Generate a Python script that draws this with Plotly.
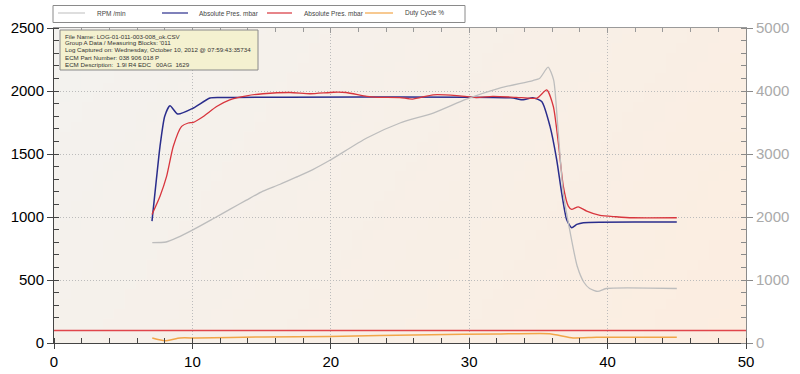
import base64, struct, zlib
import plotly.graph_objects as go

# ---------------- data ----------------
rpm_t = [7.1, 8.1, 8.9, 10.1, 11.5, 12.7, 13.9, 15.1, 16.3, 17.5, 18.7, 19.9, 22.6, 25.0,
         27.4, 29.8, 32.2, 34.6, 35.1, 35.7, 36.1, 36.4, 36.8, 37.3, 37.8, 38.3, 38.7,
         39.3, 39.9, 45.0]
rpm = [1594, 1603, 1672, 1804, 1973, 2120, 2267, 2410, 2516, 2632, 2753, 2896, 3254, 3492,
       3650, 3871, 4045, 4166, 4203, 4378, 4177, 3438, 2384, 1751, 1223, 960, 865,
       818, 865, 865]

blue_t = [7.08, 7.4, 7.66, 8.0, 8.38, 8.94, 10.07, 11.27, 12.0, 33.0, 33.9, 34.6, 35.24,
          35.84, 36.32, 36.68, 37.04, 37.4, 37.77, 38.25, 45.0]
blue = [967, 1300, 1561, 1800, 1883, 1817, 1865, 1944, 1948, 1946, 1930, 1946, 1917,
        1719, 1456, 1192, 981, 915, 941, 955, 960]

red_t = [7.08, 7.66, 8.14, 8.62, 9.22, 9.7, 10.07, 10.79, 11.75, 12.7, 13.92, 15.1, 17.05,
         18.5, 20.2, 21.1, 22.6, 23.4, 25.0, 25.9, 27.4, 29.1, 30.5, 31.7, 33.4, 34.9, 35.6,
         36.08, 36.44, 36.8, 37.16, 37.4, 37.88, 38.49, 39.45, 40.6, 41.8, 45.0]
red = [1020, 1165, 1324, 1561, 1719, 1746, 1751, 1798, 1877, 1930, 1962, 1978, 1988,
       1978, 1990, 1988, 1957, 1950, 1948, 1936, 1970, 1964, 1948, 1957, 1950, 1944, 2009,
       1877, 1588, 1245, 1086, 1060, 1081, 1047, 1013, 1002, 994, 994]

duty_t = [7.1, 8.0, 9.1, 10.3, 15.1, 19.9, 27.2, 32.0, 35.8, 37.5, 39.2, 45.0]
duty = [40, 18, 40, 40, 48, 52, 66, 71, 74, 40, 45, 45]

limit_value = 100

series_names = ["RPM /min", "Absolute Pres. mbar", "Absolute Pres. mbar", "Duty Cycle %"]
series_colors = ["#c8c8c8", "#2a2d8c", "#d8353d", "#f2a548"]

info_lines = [
    "File Name: LOG-01-011-003-008_ok.CSV",
    "Group A Data / Measuring Blocks: '011",
    "Log Captured on: Wednesday, October 10, 2012 @ 07:59:43:35734",
    "ECM Part Number: 038 906 018 P",
    "ECM Description:  1.9l R4 EDC   00AG  1629",
]

x_ticks = [0, 10, 20, 30, 40, 50]
y_ticks = [0, 500, 1000, 1500, 2000, 2500]
y2_ticks = [0, 1000, 2000, 3000, 4000, 5000]

# ---------------- geometry helpers (pixel -> paper) ----------------
W, H = 800, 374
ML, MR, MT, MB = 54, 54, 28, 31
PW, PH = W - ML - MR, H - MT - MB


def px(x):
    return (x - ML) / PW


def py(y):
    return (H - MB - y) / PH


# ---------------- background gradient image ----------------
def gradient_png(w, h, c_tl, c_br):
    rows = b""
    for j in range(h):
        row = b"\x00"
        for i in range(w):
            t = 0.75 * i / (w - 1) + 0.25 * j / (h - 1)
            row += bytes(int(round(c_tl[k] + (c_br[k] - c_tl[k]) * t)) for k in range(3))
        rows += row

    def chunk(tag, data):
        c = struct.pack(">I", len(data)) + tag + data
        return c + struct.pack(">I", zlib.crc32(tag + data) & 0xffffffff)
    png = b"\x89PNG\r\n\x1a\n"
    png += chunk(b"IHDR", struct.pack(">IIBBBBB", w, h, 8, 2, 0, 0, 0))
    png += chunk(b"IDAT", zlib.compress(rows))
    png += chunk(b"IEND", b"")
    return "data:image/png;base64," + base64.b64encode(png).decode()


bg_src = gradient_png(64, 32, (243, 242, 239), (252, 237, 224))

FONT = "Liberation Sans, Arial, sans-serif"

fig = go.Figure()
fig.add_trace(go.Scatter(x=rpm_t, y=rpm, name=series_names[0], yaxis="y2",
                         mode="lines", line=dict(color="#bdbdbd", width=1.3, shape="spline", smoothing=0.6)))
fig.add_trace(go.Scatter(x=blue_t, y=blue, name=series_names[1],
                         mode="lines", line=dict(color=series_colors[1], width=1.5, shape="spline", smoothing=0.6)))
fig.add_trace(go.Scatter(x=red_t, y=red, name=series_names[2],
                         mode="lines", line=dict(color=series_colors[2], width=1.3, shape="spline", smoothing=0.6)))
fig.add_trace(go.Scatter(x=duty_t, y=duty, name=series_names[3],
                         mode="lines", line=dict(color=series_colors[3], width=1.5, shape="spline", smoothing=0.5)))
# invisible trace to activate the top mirror axis
fig.add_trace(go.Scatter(x=[0, 50], y=[0, 0], xaxis="x2", mode="lines",
                         line=dict(width=0), showlegend=False, hoverinfo="skip"))

fig.add_shape(type="line", xref="paper", x0=0, x1=1, yref="y", y0=limit_value, y1=limit_value,
              line=dict(color="#e0454b", width=1.5))

fig.add_layout_image(dict(source=bg_src, xref="paper", yref="paper", x=0, y=1,
                          sizex=1, sizey=1, sizing="stretch", layer="below",
                          xanchor="left", yanchor="top"))

# ---------------- info box ----------------
fig.add_shape(type="rect", xref="paper", yref="paper", x0=px(60), x1=px(258), y0=py(70), y1=py(30),
              fillcolor="#f4f1d0", line=dict(color="#8a8a8a", width=1), layer="above")
info_y = [36, 42.8, 50, 57.2, 64.3]
for txt, yy in zip(info_lines, info_y):
    fig.add_annotation(text=txt, xref="paper", yref="paper", x=px(63), y=py(yy),
                       xanchor="left", yanchor="middle", showarrow=False,
                       font=dict(family=FONT, size=6.2, color="#333"))

# ---------------- legend (manual) ----------------
fig.add_shape(type="rect", xref="paper", yref="paper", x0=px(53), x1=px(465), y0=py(22.5), y1=py(5.5),
              fillcolor="white", line=dict(color="#8a8a8a", width=1))
leg_samples = [(58, 85), (162, 188), (267, 292), (365, 393)]
leg_text_x = [95, 197, 302, 403]
for name, col, (a, b), tx in zip(series_names, series_colors, leg_samples, leg_text_x):
    fig.add_shape(type="line", xref="paper", yref="paper", x0=px(a), x1=px(b), y0=py(13), y1=py(13),
                  line=dict(color=col, width=1.2))
    fig.add_annotation(text=name, xref="paper", yref="paper", x=px(tx), y=py(13.5),
                       xanchor="left", yanchor="middle", showarrow=False,
                       font=dict(family=FONT, size=6.5, color="#444"))

fig.update_layout(
    width=W, height=H,
    margin=dict(l=ML, r=MR, t=MT, b=MB, autoexpand=False),
    paper_bgcolor="white",
    plot_bgcolor="#f7f0e8",
    font=dict(family=FONT, size=15, color="black"),
    showlegend=False,
    xaxis=dict(range=[0, 50], tickvals=x_ticks, showgrid=True, gridcolor="#bcbcbc",
               griddash="1px,2px", gridwidth=1, zeroline=False,
               showline=True, linecolor="#444", linewidth=1,
               ticks="outside", ticklen=5, tickcolor="#444",
               minor=dict(dtick=2, ticks="inside", ticklen=5, tickcolor="#444", showgrid=False),
               tickfont=dict(size=15, color="black")),
    xaxis2=dict(range=[0, 50], overlaying="x", side="top", showticklabels=False,
                showgrid=False, zeroline=False, showline=True, linecolor="#9a9a9a",
                ticks="inside", ticklen=5, tickcolor="#9a9a9a", tickvals=x_ticks,
                minor=dict(dtick=2, ticks="inside", ticklen=4, tickcolor="#9a9a9a")),
    yaxis=dict(range=[0, 2500], tickvals=y_ticks, showgrid=True, gridcolor="#bcbcbc",
               griddash="1px,2px", gridwidth=1, zeroline=False,
               showline=True, linecolor="#444", linewidth=1,
               ticks="outside", ticklen=6, tickcolor="#444",
               minor=dict(dtick=100, ticks="inside", ticklen=5, tickcolor="#444", showgrid=False),
               tickfont=dict(size=15, color="black")),
    yaxis2=dict(range=[0, 5000], tickvals=y2_ticks, overlaying="y", side="right",
                showgrid=False, zeroline=False, showline=True, linecolor="#8a8a8a",
                ticks="outside", ticklen=6, tickcolor="#8a8a8a",
                minor=dict(dtick=200, ticks="inside", ticklen=5, tickcolor="#8a8a8a"),
                tickfont=dict(size=15, color="#aaaaaa")),
)

fig.write_html("out.html")
